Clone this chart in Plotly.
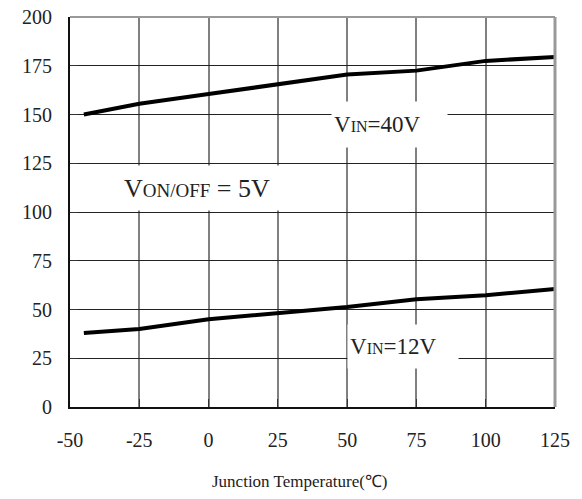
import plotly.graph_objects as go

temp_40 = [-45, -25, 0, 25, 50, 75, 100, 125]
i_40 = [150, 155.5, 160.5, 165.5, 170.5, 172.5, 177.5, 179.5]
temp_12 = [-45, -25, 0, 25, 37, 50, 75, 100, 125]
i_12 = [38, 40, 45, 48, 49.7, 51.3, 55.3, 57.3, 60.5]
x_ticks = [-50, -25, 0, 25, 50, 75, 100, 125]
y_ticks = [0, 25, 50, 75, 100, 125, 150, 175, 200]

SERIF = "Liberation Serif, Times New Roman, serif"
TXT = "#222"

fig = go.Figure()
fig.add_trace(go.Scatter(x=temp_40, y=i_40, mode="lines",
                         line=dict(color="black", width=4), showlegend=False))
fig.add_trace(go.Scatter(x=temp_12, y=i_12, mode="lines",
                         line=dict(color="black", width=4), showlegend=False))

fig.add_annotation(x=65.2, y=145, text="V<span style='font-size:16px'>IN</span>=40V",
                   showarrow=False, bgcolor="white", font=dict(family=SERIF, size=23, color=TXT),
                   width=111, height=41, align="left", borderpad=2)
fig.add_annotation(x=-4.2, y=112.3, text="V<span style='font-size:19px'>ON/OFF</span> = 5V",
                   showarrow=False, bgcolor="white", font=dict(family=SERIF, size=26, color=TXT),
                   width=180, height=40, align="center", borderpad=2)
fig.add_annotation(x=70.1, y=31, text="V<span style='font-size:16px'>IN</span>=12V",
                   showarrow=False, bgcolor="white", font=dict(family=SERIF, size=23, color=TXT),
                   width=106, height=39, align="left", borderpad=2)

fig.add_annotation(x=0.474, y=-0.22, xref="paper", yref="paper",
                   text="Junction Temperature(℃)", showarrow=False,
                   font=dict(family=SERIF, size=17, color=TXT))

# frame: top and right edges
fig.add_shape(type="line", xref="paper", yref="paper", x0=0, x1=1, y0=1, y1=1,
              line=dict(color="#999999", width=2))
fig.add_shape(type="line", xref="paper", yref="paper", x0=1, x1=1, y0=0, y1=1,
              line=dict(color="#999999", width=3))

fig.update_layout(
    width=582, height=499,
    margin=dict(l=70, r=27, t=17, b=92),
    plot_bgcolor="white", paper_bgcolor="white",
    font=dict(family=SERIF, size=20, color=TXT),
    xaxis=dict(range=[-50, 125], tickvals=x_ticks, ticktext=[str(v) for v in x_ticks],
               showgrid=True, gridcolor="#808080", gridwidth=1.5,
               showline=True, linecolor="#111", linewidth=2,
               ticks="inside", ticklen=8, tickcolor="#333", tickwidth=1,
               zeroline=False, ticklabelstandoff=14, automargin=False),
    yaxis=dict(range=[0, 200], tickvals=y_ticks, ticktext=[str(v) for v in y_ticks],
               showgrid=True, gridcolor="#222", gridwidth=1,
               showline=True, linecolor="#111", linewidth=2,
               ticks="inside", ticklen=8, tickcolor="#333", tickwidth=1,
               zeroline=False, ticklabelstandoff=12, automargin=False),
)

fig.write_html("out.html", config={"displayModeBar": False},
               post_script="document.body.style.margin='0';document.body.style.overflow='hidden';")
